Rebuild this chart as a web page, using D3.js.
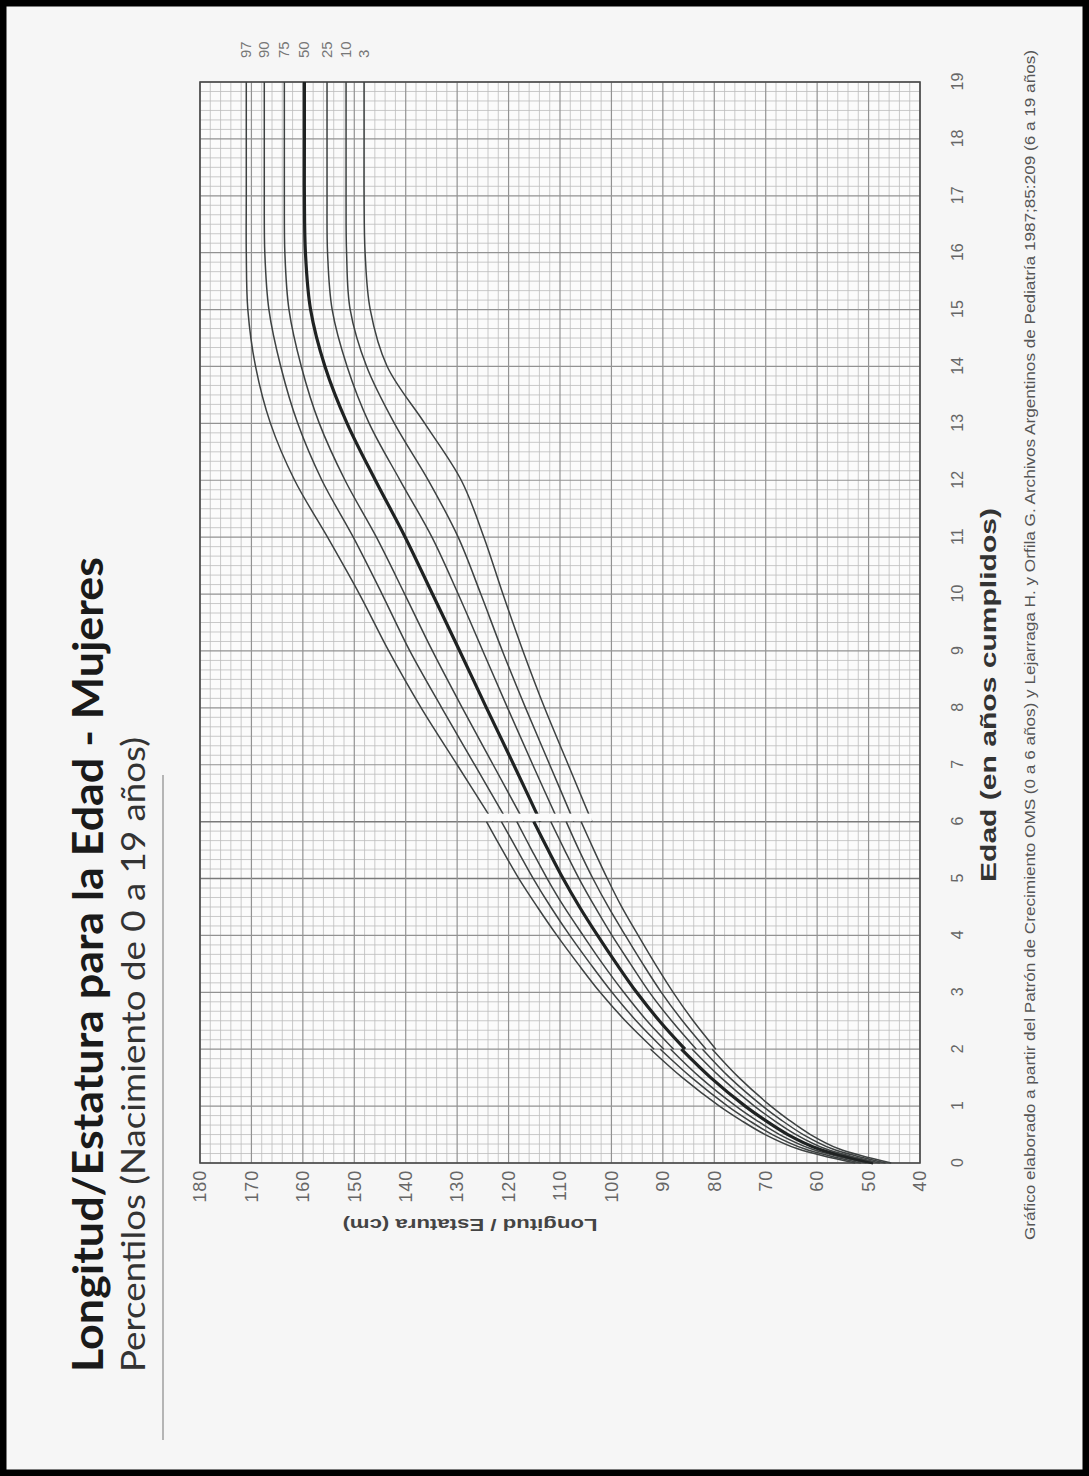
<!DOCTYPE html>
<html><head><meta charset="utf-8">
<script src="https://cdn.jsdelivr.net/npm/d3@7"></script>
<style>body{margin:0;background:#f6f6f6}</style>
</head><body>
<script>
// ---------- DATA ----------
const percentiles = ["97","90","75","50","25","10","3"];
const ageTicks = d3.range(0, 20);
const heightTicks = [40,50,60,70,80,90,100,110,120,130,140,150,160,170,180];
const emphasisAges = [5, 6];

// WHO length (0-2 years)
const lengthAges = [0, 0.25, 0.5, 0.75, 1, 1.5, 2];
const lengthValues = [
  [52.6, 63.8, 70.1, 74.8, 79.0, 86.2, 92.4],
  [51.5, 62.5, 68.7, 73.3, 77.4, 84.4, 90.5],
  [50.4, 61.2, 67.3, 71.8, 75.8, 82.7, 88.5],
  [49.1, 59.8, 65.7, 70.1, 74.0, 80.7, 86.4],
  [47.8, 58.4, 64.1, 68.4, 72.2, 78.7, 84.3],
  [46.7, 57.1, 62.7, 66.9, 70.6, 77.0, 82.3],
  [45.6, 55.8, 61.3, 65.4, 69.0, 75.2, 80.4]
];
// WHO height (2-6 years)
const heightAges = [2, 2.5, 3, 3.5, 4, 4.5, 5, 5.5, 6];
const heightValues = [
  [91.7, 97.3, 102.2, 106.5, 110.6, 114.4, 118.0, 121.2, 124.3],
  [89.8, 95.2, 99.9, 104.1, 108.1, 111.8, 115.2, 118.3, 121.4],
  [87.9, 93.1, 97.6, 101.7, 105.5, 109.2, 112.5, 115.5, 118.4],
  [85.7, 90.7, 95.1, 99.0, 102.7, 106.2, 109.4, 112.3, 115.1],
  [83.5, 88.3, 92.6, 96.3, 99.9, 103.2, 106.3, 109.1, 111.8],
  [81.6, 86.2, 90.3, 93.9, 97.3, 100.6, 103.6, 106.3, 108.8],
  [79.7, 84.1, 88.0, 91.5, 94.8, 98.0, 100.8, 103.4, 105.9]
];
// Lejarraga & Orfila (6-19 years)
const lejAges = [6,7,8,9,10,11,12,13,14,15,16,17,18,19];
const lejValues = [
  [123.0,130.0,137.0,143.3,149.0,155.2,161.6,166.3,169.2,170.7,171.0,171.0,171.0,171.0],
  [120.2,126.6,133.0,139.2,144.6,150.2,156.3,161.0,164.3,166.6,167.4,167.5,167.5,167.5],
  [117.0,123.0,129.0,134.8,140.2,145.7,151.8,156.8,160.3,162.7,163.5,163.6,163.6,163.6],
  [113.8,119.0,124.3,129.5,134.8,140.1,145.9,151.4,155.7,158.5,159.5,159.7,159.7,159.7],
  [110.3,115.3,120.2,125.0,129.8,134.9,141.1,147.1,151.4,154.3,155.2,155.3,155.3,155.3],
  [107.3,112.0,116.7,121.2,125.4,129.8,135.6,142.2,147.6,150.8,151.5,151.6,151.6,151.6],
  [103.8,108.4,113.0,117.2,121.1,124.8,129.2,136.3,143.6,146.9,147.9,148.1,148.1,148.1]
];
const junctionBand = {ages:[6.01, 6.14], cm:[103.8, 124.6]};

// ---------- DRAW ----------
const W = 1089, H = 1476;
const svg = d3.select("body").append("svg").attr("width", W).attr("height", H);
svg.append("rect").attr("width", W).attr("height", H).attr("fill", "#f6f6f6");

// whole chart is drawn rotated -90deg (page printed sideways)
const g = svg.append("g").attr("transform", `translate(0,${H}) rotate(-90)`);

const x = d3.scaleLinear().domain([0, 19]).range([313, 1394]);
const y = d3.scaleLinear().domain([40, 180]).range([920, 200]);
const plotBg = "#fbfbfb";

g.append("rect").attr("x", x(0)).attr("y", y(180))
  .attr("width", x(19) - x(0)).attr("height", y(40) - y(180)).attr("fill", plotBg);

// grid
const grid = g.append("g");
const ageMinor = d3.range(0, 19 * 6 + 1).map(i => i / 6).filter((a, i) => i % 6 !== 0);
const cmMinor = d3.range(40, 181, 2).filter(v => v % 10 !== 0);
grid.selectAll(".am").data(ageMinor).join("line")
  .attr("x1", d => x(d)).attr("x2", d => x(d)).attr("y1", y(40)).attr("y2", y(180))
  .attr("stroke", "#bcbcbc").attr("stroke-width", 0.8);
grid.selectAll(".cm").data(cmMinor).join("line")
  .attr("y1", d => y(d)).attr("y2", d => y(d)).attr("x1", x(0)).attr("x2", x(19))
  .attr("stroke", "#bcbcbc").attr("stroke-width", 0.8);
grid.selectAll(".aM").data(ageTicks).join("line")
  .attr("x1", d => x(d)).attr("x2", d => x(d)).attr("y1", y(40)).attr("y2", y(180))
  .attr("stroke", d => emphasisAges.includes(d) ? "#7a7a7a" : "#929292")
  .attr("stroke-width", d => emphasisAges.includes(d) ? 1.5 : 1.2);
grid.selectAll(".cM").data(heightTicks).join("line")
  .attr("y1", d => y(d)).attr("y2", d => y(d)).attr("x1", x(0)).attr("x2", x(19))
  .attr("stroke", "#929292").attr("stroke-width", 1.2);

// frame
g.append("rect").attr("x", x(0)).attr("y", y(180))
  .attr("width", x(19) - x(0)).attr("height", y(40) - y(180))
  .attr("fill", "none").attr("stroke", "#4a4a4a").attr("stroke-width", 1.6);

// curves
const line = d3.line().x(d => x(d[0])).y(d => y(d[1])).curve(d3.curveCatmullRom.alpha(0.5));
const curves = g.append("g").attr("fill", "none");
percentiles.forEach((p, i) => {
  const bold = p === "50";
  const segs = [
    lengthAges.map((a, j) => [a, lengthValues[i][j]]),
    heightAges.map((a, j) => [a, heightValues[i][j]]),
    lejAges.map((a, j) => [a, lejValues[i][j]])
  ];
  segs.forEach(s => curves.append("path").attr("d", line(s))
    .attr("stroke", bold ? "#1f2222" : "#3e4242")
    .attr("stroke-width", bold ? 3.2 : 1.5));
});

// junction mask between WHO and Lejarraga curves
g.append("rect")
  .attr("x", x(junctionBand.ages[0])).attr("width", x(junctionBand.ages[1]) - x(junctionBand.ages[0]))
  .attr("y", y(junctionBand.cm[1])).attr("height", y(junctionBand.cm[0]) - y(junctionBand.cm[1]))
  .attr("fill", plotBg);

// axes
const tickFont = "'Liberation Sans', Arial, sans-serif";
const yAxis = g.append("g").attr("transform", `translate(${x(0)},0)`)
  .call(d3.axisLeft(y).tickValues(heightTicks).tickSize(0).tickPadding(7));
yAxis.select(".domain").remove();
yAxis.selectAll("text").attr("font-family", tickFont).attr("font-size", 18)
  .attr("fill", "#666").attr("letter-spacing", 0.8);

const xAxis = g.append("g").attr("transform", `translate(0,${y(40)})`)
  .call(d3.axisBottom(x).tickValues(ageTicks).tickSize(0).tickPadding(32));
xAxis.select(".domain").remove();
xAxis.selectAll("text").attr("font-family", tickFont).attr("font-size", 16).attr("fill", "#666");

// percentile labels
g.append("g").selectAll("text").data(percentiles).join("text")
  .attr("x", 1418).attr("y", (d, i) => y(lejValues[i][lejValues[i].length - 1]) + 5)
  .attr("font-family", tickFont).attr("font-size", 15).attr("fill", "#777")
  .text(d => d);

// axis titles
g.append("text").attr("transform", `translate(257,470) rotate(-90)`)
  .attr("text-anchor", "middle").attr("font-family", tickFont).attr("font-weight", "bold")
  .attr("font-size", 17).attr("fill", "#444")
  .attr("textLength", 255).attr("lengthAdjust", "spacingAndGlyphs")
  .text("Longitud / Estatura (cm)");

g.append("text").attr("x", 594).attr("y", 996)
  .attr("font-family", tickFont).attr("font-weight", "bold").attr("font-size", 22).attr("fill", "#333")
  .attr("textLength", 374).attr("lengthAdjust", "spacingAndGlyphs")
  .text("Edad (en años cumplidos)");

g.append("text").attr("x", 236).attr("y", 1035)
  .attr("font-family", tickFont).attr("font-size", 14).attr("fill", "#555")
  .attr("textLength", 1190).attr("lengthAdjust", "spacingAndGlyphs")
  .text("Gráfico elaborado a partir del Patrón de Crecimiento OMS (0 a 6 años) y Lejarraga H. y Orfila G. Archivos Argentinos de Pediatría 1987;85:209 (6 a 19 años)");

// titles
g.append("text").attr("x", 104).attr("y", 103)
  .attr("font-family", "Lato, 'Open Sans', sans-serif").attr("font-weight", "bold")
  .attr("font-size", 42).attr("fill", "#1a1a1a")
  .attr("textLength", 815).attr("lengthAdjust", "spacingAndGlyphs")
  .text("Longitud/Estatura para la Edad - Mujeres");
g.append("text").attr("x", 104).attr("y", 145)
  .attr("font-family", "Lato, 'Open Sans', sans-serif")
  .attr("font-size", 33).attr("fill", "#333")
  .attr("textLength", 635).attr("lengthAdjust", "spacingAndGlyphs")
  .text("Percentilos (Nacimiento de 0 a 19 años)");
g.append("line").attr("x1", 36).attr("x2", 701).attr("y1", 163).attr("y2", 163)
  .attr("stroke", "#8a8a8a").attr("stroke-width", 1.2);

// outer black frame
svg.append("rect").attr("x", 3).attr("y", 3).attr("width", W - 6).attr("height", H - 6)
  .attr("fill", "none").attr("stroke", "#000").attr("stroke-width", 7);
</script>
</body></html>
